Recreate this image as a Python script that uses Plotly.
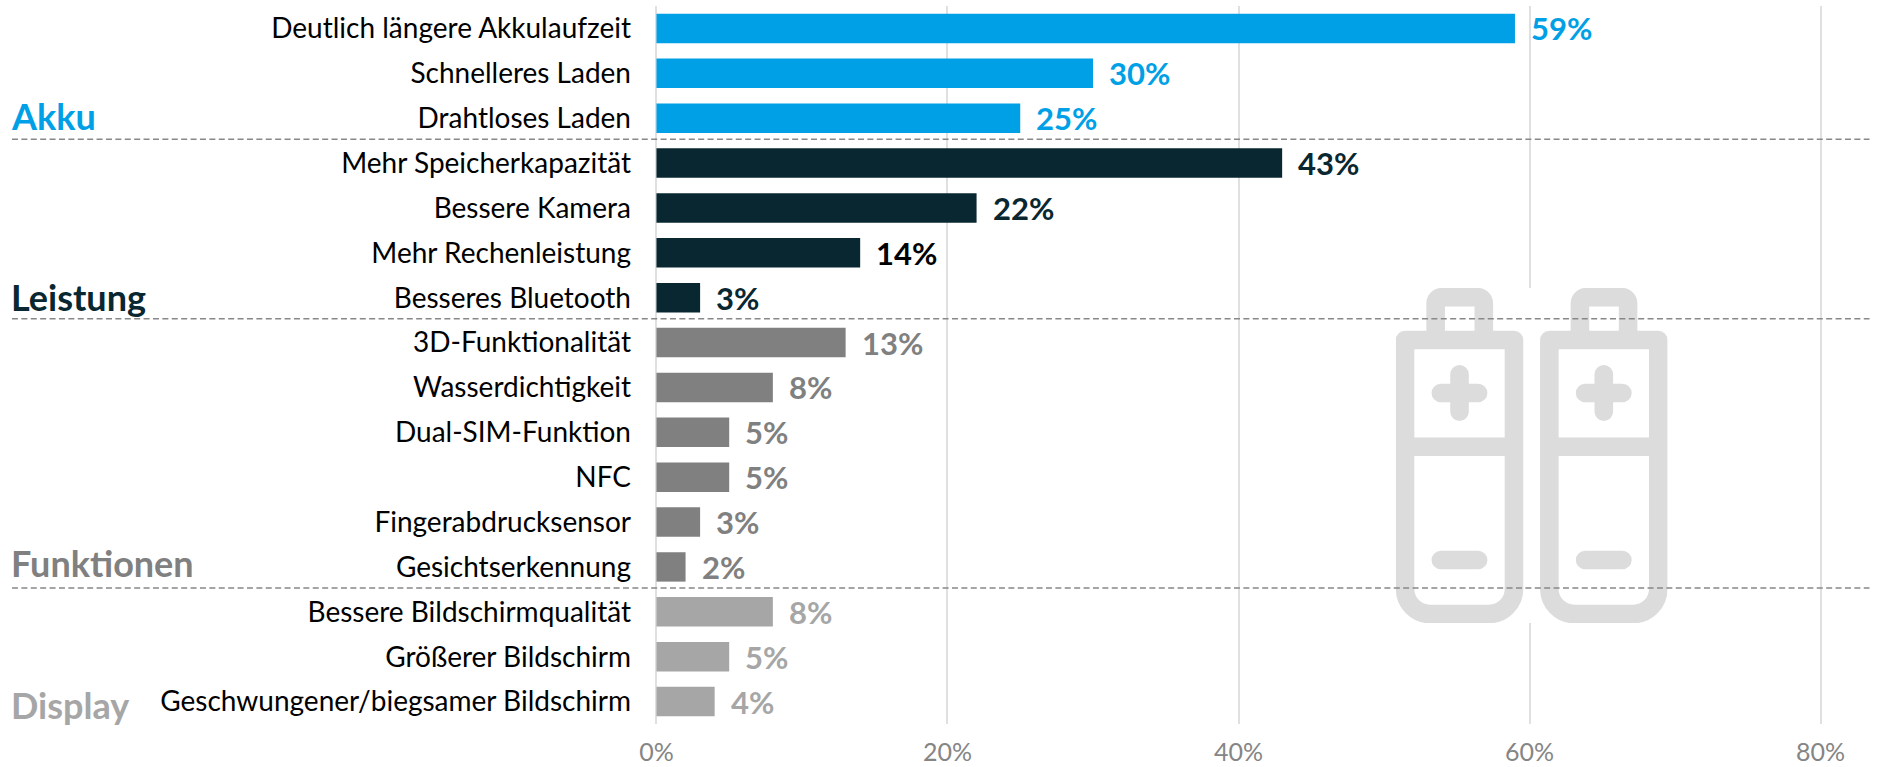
import base64
import plotly.graph_objects as go

categories = ["Deutlich längere Akkulaufzeit", "Schnelleres Laden", "Drahtloses Laden",
              "Mehr Speicherkapazität", "Bessere Kamera", "Mehr Rechenleistung", "Besseres Bluetooth",
              "3D-Funktionalität", "Wasserdichtigkeit", "Dual-SIM-Funktion", "NFC",
              "Fingerabdrucksensor", "Gesichtserkennung",
              "Bessere Bildschirmqualität", "Größerer Bildschirm", "Geschwungener/biegsamer Bildschirm"]
values = [59, 30, 25, 43, 22, 14, 3, 13, 8, 5, 5, 3, 2, 8, 5, 4]
group_names = ["Akku", "Leistung", "Funktionen", "Display"]
group_sizes = [3, 4, 6, 3]
group_colors = ["#00A0E6", "#092731", "#808080", "#A6A6A6"]
label_override = {"Mehr Rechenleistung": "#000000"}
x_ticks = [0, 20, 40, 60, 80]
x_ticklabels = ["0%", "20%", "40%", "60%", "80%"]

W, H = 1877, 767
L, R, T, B = 654.54, 54.54, 6, 43
FONT = "Lato"
group_label_shift = [2, 1, 4, -3]

bar_colors = [c for c, n in zip(group_colors, group_sizes) for _ in range(n)]

fig = go.Figure(go.Bar(
    x=values, y=categories, orientation="h", width=0.655,
    marker=dict(color=bar_colors, line=dict(width=0)),
    hoverinfo="skip", showlegend=False,
))

annotations = []
for cat, v, col in zip(categories, values, bar_colors):
    annotations.append(dict(
        x=v, y=cat, xref="x", yref="y", text=f"<b>{v}%</b>", showarrow=False,
        xanchor="left", yanchor="middle", xshift=14, yshift=0,
        font=dict(family=FONT, size=31, color=label_override.get(cat, col)),
    ))

group_baseline_idx = 0
shapes = []
for name, n, col, ys in zip(group_names, group_sizes, group_colors, group_label_shift):
    last = group_baseline_idx + n - 1
    annotations.append(dict(
        x=8, y=categories[last], xref="paper", yref="y", text=f"<b>{name}</b>", showarrow=False,
        xanchor="left", yanchor="middle", yshift=ys,
        font=dict(family=FONT, size=36, color=col),
    ))
    group_baseline_idx += n
    if group_baseline_idx < len(categories):
        shapes.append(dict(
            type="line", xref="paper", yref="y",
            x0=(11 - L) / (W - L - R), x1=(1870 - L) / (W - L - R),
            y0=group_baseline_idx - 0.53, y1=group_baseline_idx - 0.53,
            line=dict(color="#888888", width=1.5, dash="6px,3.4px"), layer="above",
        ))
for a in annotations:
    if a["xref"] == "paper":
        a["x"] = (a["x"] - L) / (W - L - R)


def battery(dx):
    return (f'<g transform="translate({dx} 0)" fill="none" stroke="#DCDCDC" stroke-width="18.6" '
            'stroke-linecap="round" stroke-linejoin="round">'
            '<path d="M9.2 52 V301 A25 25 0 0 0 34.2 326 H93.2 A25 25 0 0 0 118.2 301 V52 Z"/>'
            '<path d="M9.2 158.7 H118.2" stroke-linecap="butt"/>'
            '<path d="M39.8 52 V15.2 A6 6 0 0 1 45.8 9.2 H82 A6 6 0 0 1 88 15.2 V52" stroke-linecap="butt"/>'
            '<path d="M45 105 H82.3 M63.7 86.3 V123.7 M45 272 H82.3"/>'
            '</g>')


svg = ('<svg xmlns="http://www.w3.org/2000/svg" width="272" height="335" viewBox="0 0 272 335">'
       '<rect width="272" height="335" fill="#FFFFFF"/>' + battery(0) + battery(144.4) + '</svg>')
uri = "data:image/svg+xml;base64," + base64.b64encode(svg.encode()).decode()
plot_w, plot_h = W - L - R, H - T - B
images = [dict(source=uri, xref="paper", yref="paper",
               x=(1396 - L) / plot_w, y=1 - (288 - T) / plot_h,
               sizex=272 / plot_w, sizey=335 / plot_h,
               xanchor="left", yanchor="top", sizing="stretch", layer="above")]

fig.update_layout(
    width=W, height=H, margin=dict(l=L, r=R, t=T, b=B, pad=0),
    paper_bgcolor="#FFFFFF", plot_bgcolor="#FFFFFF",
    font=dict(family=FONT, size=28, color="#000000"),
    bargap=0.345, annotations=annotations, shapes=shapes, images=images,
    xaxis=dict(range=[-0.1, 80.1], tickvals=x_ticks, ticktext=x_ticklabels, side="bottom",
               showgrid=True, gridcolor="#E0E0E0", gridwidth=1.6, zeroline=False, showline=False,
               ticks="outside", ticklen=6, tickcolor="#FFFFFF", tickwidth=1,
               tickfont=dict(family=FONT, size=25, color="#858585"), automargin=False),
    yaxis=dict(categoryorder="array", categoryarray=categories, range=[15.5, -0.5],
               showgrid=False, zeroline=False, showline=False, ticks="",
               ticklabelstandoff=23, tickfont=dict(family=FONT, size=28, color="#000000"),
               automargin=False),
)
fig.write_html("out.html", config={"displayModeBar": False},
               post_script="document.body.style.margin='0';document.documentElement.style.overflow='hidden';")
